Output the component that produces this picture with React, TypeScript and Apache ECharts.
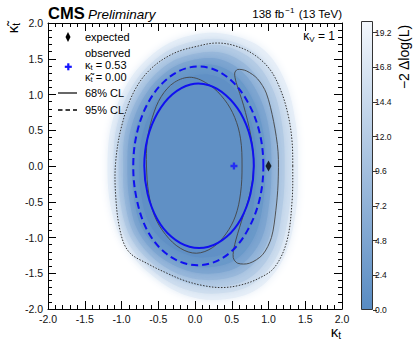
import React, { useEffect, useRef } from 'react';
import * as echarts from 'echarts';

// ---- data ----
const axisMin = -2;
const axisMax = 2;
const axisStep = 0.5;
const colorbarTicks = [0, 2.4, 4.8, 7.2, 9.6, 12.0, 14.4, 16.8, 19.2];
const colorbarMax = 20;

const expectedPoint: number[] = [1.0, 0.0];
const observedPoint: number[] = [0.53, 0.0];
const observedKt = '0.53';
const observedKtTilde = '0.00';

// observed 68% CL (blue solid)
const obs68: number[][] = [
  [0.80, 0.0], [0.755, 0.39], [0.62, 0.74], [0.42, 0.99], [0.19, 1.13], [-0.06, 1.14], [-0.31, 1.0],
  [-0.51, 0.74], [-0.645, 0.39], [-0.69, 0.0], [-0.645, -0.39], [-0.515, -0.74], [-0.32, -0.99],
  [-0.075, -1.13], [0.185, -1.13], [0.43, -0.99], [0.625, -0.74], [0.755, -0.39],
];
// observed 95% CL (blue dashed)
const obs95: number[][] = [
  [0.93, 0.0], [0.877, 0.474], [0.72, 0.89], [0.49, 1.20], [0.20, 1.37], [-0.11, 1.37], [-0.40, 1.20],
  [-0.635, 0.89], [-0.787, 0.474], [-0.84, 0.0], [-0.79, -0.48], [-0.645, -0.91], [-0.41, -1.21],
  [-0.11, -1.37], [0.20, -1.365], [0.49, -1.20], [0.72, -0.89], [0.877, -0.474],
];
// expected 68% CL, left lobe (thin black)
const exp68Left: number[][] = [
  [0.64, 0.0], [0.62, 0.38], [0.54, 0.68], [0.40, 0.93], [0.20, 1.13], [-0.05, 1.24], [-0.28, 1.17],
  [-0.46, 0.97], [-0.58, 0.68], [-0.65, 0.35], [-0.66, 0.0], [-0.63, -0.38], [-0.55, -0.70],
  [-0.40, -0.96], [-0.20, -1.15], [0.02, -1.22], [0.24, -1.14], [0.42, -0.95], [0.55, -0.70], [0.62, -0.38],
];
// expected 68% CL, right crescent (thin black)
const exp68Right: number[][] = [
  [0.58, 1.35], [0.70, 1.33], [0.85, 1.22], [0.97, 1.02], [1.07, 0.62], [1.13, 0.20], [1.13, -0.25],
  [1.10, -0.62], [1.04, -1.0], [0.92, -1.24], [0.74, -1.36], [0.58, -1.36], [0.52, -1.28],
  [0.54, -1.10], [0.63, -0.78], [0.74, -0.42], [0.80, 0.0], [0.76, 0.42], [0.66, 0.85], [0.56, 1.17], [0.54, 1.30],
];
// expected 95% CL (thin dotted)
const exp95: number[][] = [
  [1.33, 0.0], [1.32, 0.35], [1.27, 0.70], [1.17, 1.05], [1.02, 1.35], [0.80, 1.56], [0.55, 1.68],
  [0.30, 1.72], [0.05, 1.68], [-0.30, 1.57], [-0.62, 1.34], [-0.84, 1.02], [-1.00, 0.55],
  [-1.08, 0.05], [-1.08, -0.40], [-1.02, -0.90], [-0.90, -1.20], [-0.62, -1.38], [-0.38, -1.50],
  [-0.15, -1.60], [0.10, -1.67], [0.35, -1.70], [0.60, -1.67], [0.85, -1.58], [1.08, -1.42],
  [1.25, -1.05], [1.32, -0.50],
];

// -2 Delta log(L) bands (outer boundary of each level)
const bandLevels = [18.5, 15.5, 12, 8.5, 5, 2.5, 1];
const band1: number[][] = [[1.40, 0], [1.37, 0.6], [1.22, 1.2], [0.92, 1.64], [0.45, 1.84], [0.0, 1.84], [-0.45, 1.66], [-0.88, 1.22], [-1.13, 0.6], [-1.19, 0], [-1.14, -0.6], [-0.96, -1.10], [-0.62, -1.50], [-0.15, -1.80], [0.35, -1.87], [0.85, -1.72], [1.20, -1.3], [1.37, -0.65]];
const band2: number[][] = [[1.31, 0], [1.28, 0.58], [1.14, 1.13], [0.86, 1.55], [0.43, 1.76], [0.0, 1.75], [-0.42, 1.58], [-0.82, 1.17], [-1.06, 0.58], [-1.11, 0], [-1.07, -0.58], [-0.92, -1.06], [-0.60, -1.44], [-0.15, -1.72], [0.35, -1.78], [0.80, -1.64], [1.13, -1.23], [1.28, -0.62]];
const band3: number[][] = [[1.22, 0], [1.19, 0.55], [1.06, 1.07], [0.80, 1.47], [0.40, 1.68], [0.0, 1.66], [-0.40, 1.50], [-0.77, 1.11], [-0.99, 0.55], [-1.04, 0], [-1.01, -0.55], [-0.87, -1.01], [-0.56, -1.38], [-0.13, -1.63], [0.33, -1.69], [0.75, -1.56], [1.06, -1.17], [1.19, -0.58]];
const band4: number[][] = [[1.13, 0], [1.10, 0.52], [0.97, 1.00], [0.73, 1.38], [0.38, 1.58], [0.0, 1.57], [-0.38, 1.42], [-0.72, 1.05], [-0.94, 0.52], [-0.98, 0], [-0.95, -0.52], [-0.82, -0.97], [-0.53, -1.32], [-0.12, -1.55], [0.30, -1.59], [0.68, -1.47], [0.97, -1.10], [1.10, -0.55]];
const band5: number[][] = [[1.04, 0], [1.01, 0.5], [0.89, 0.94], [0.66, 1.30], [0.35, 1.49], [0.0, 1.49], [-0.36, 1.34], [-0.68, 0.99], [-0.88, 0.49], [-0.92, 0], [-0.89, -0.49], [-0.77, -0.92], [-0.50, -1.25], [-0.11, -1.46], [0.28, -1.50], [0.63, -1.38], [0.90, -1.03], [1.01, -0.52]];
const band6: number[][] = [[0.96, 0], [0.93, 0.47], [0.81, 0.88], [0.60, 1.22], [0.32, 1.40], [0.0, 1.40], [-0.34, 1.26], [-0.63, 0.93], [-0.82, 0.46], [-0.86, 0], [-0.83, -0.46], [-0.72, -0.87], [-0.47, -1.18], [-0.10, -1.38], [0.26, -1.41], [0.58, -1.29], [0.82, -0.96], [0.93, -0.49]];
const band7: number[][] = [[0.84, 0], [0.81, 0.42], [0.70, 0.80], [0.52, 1.10], [0.28, 1.26], [0.0, 1.27], [-0.30, 1.14], [-0.56, 0.84], [-0.72, 0.42], [-0.76, 0], [-0.73, -0.42], [-0.63, -0.79], [-0.41, -1.07], [-0.08, -1.25], [0.23, -1.27], [0.52, -1.16], [0.73, -0.87], [0.81, -0.44]];
const bands = [band1, band2, band3, band4, band5, band6, band7];

// ---- styling helpers ----
const FONT = '"Liberation Sans", Arial, Helvetica, sans-serif';
const cLow = [88, 139, 194];
const cHigh = [243, 247, 252];
function levelColor(v: number): string {
  const t = Math.max(0, Math.min(1, v / colorbarMax));
  const c = cLow.map((lo, i) => Math.round(lo + (cHigh[i] - lo) * t));
  return `rgb(${c[0]},${c[1]},${c[2]})`;
}

function polySeries(pts: number[][], style: any, z: number, smooth = 0.35) {
  return {
    type: 'custom',
    xAxisIndex: 0,
    yAxisIndex: 0,
    z,
    silent: true,
    clip: true,
    data: pts,
    renderItem: (params: any, api: any) => {
      if (params.dataIndex !== 0) return null;
      const points = pts.map((p) => api.coord(p));
      return { type: 'polygon', shape: { points, smooth }, style };
    },
  };
}

const fmt1 = (v: number) => (Math.round(v * 10) / 10).toFixed(1);

const axisCommon: any = {
  type: 'value',
  min: axisMin,
  max: axisMax,
  interval: axisStep,
  gridIndex: 0,
  z: 20,
  axisLine: { show: true, onZero: false, lineStyle: { color: '#000', width: 1 } },
  axisTick: { show: true, inside: true, length: 8, lineStyle: { color: '#000', width: 1 } },
  minorTick: { show: true, splitNumber: 5, length: 4, lineStyle: { color: '#000', width: 1 } },
  splitLine: { show: false },
  minorSplitLine: { show: false },
};

export default function App() {
  const ref = useRef<HTMLDivElement>(null);
  useEffect(() => {
    if (!ref.current) return;
    const chart = echarts.init(ref.current, null, { renderer: 'svg' });

    const gradStops = [0, 0.25, 0.5, 0.75, 1].map((o) => ({ offset: o, color: levelColor(colorbarMax * (1 - o)) }));

    const series: any[] = [];
    bands.forEach((b, i) => {
      const col = levelColor(bandLevels[i]);
      series.push(polySeries(b, { fill: col, stroke: 'none', shadowBlur: 9, shadowColor: col }, 1 + i * 0.01));
    });
    series.push(polySeries(exp95, { fill: 'none', stroke: '#333', lineWidth: 1, lineDash: [1.5, 1.5] }, 3));
    series.push(polySeries(exp68Left, { fill: 'none', stroke: '#444', lineWidth: 0.9 }, 3));
    series.push(polySeries(exp68Right, { fill: 'none', stroke: '#444', lineWidth: 0.9 }, 3, 0.3));
    series.push(polySeries(obs95, { fill: 'none', stroke: '#1010f0', lineWidth: 2, lineDash: [7, 4] }, 4));
    series.push(polySeries(obs68, { fill: 'none', stroke: '#1010f0', lineWidth: 2 }, 4));
    series.push({
      type: 'scatter', xAxisIndex: 0, yAxisIndex: 0, z: 10, silent: true,
      data: [expectedPoint], symbol: 'diamond', symbolSize: [6, 11], itemStyle: { color: '#000' },
    });
    series.push({
      type: 'scatter', xAxisIndex: 0, yAxisIndex: 0, z: 10, silent: true,
      data: [observedPoint], symbol: 'path://M2,0H4V2H6V4H4V6H2V4H0V2H2Z', symbolSize: 7,
      itemStyle: { color: '#1515ff' },
    });
    series.push({
      type: 'bar', xAxisIndex: 2, yAxisIndex: 2, silent: true, barWidth: '100%',
      data: [colorbarMax],
      itemStyle: { color: new echarts.graphic.LinearGradient(0, 0, 0, 1, gradStops), borderColor: '#333', borderWidth: 1 },
    });

    const legendFont = `11px ${FONT}`;
    const graphic: any[] = [
      { type: 'text', x: 48, y: 13, style: { text: 'CMS', font: `bold 16.5px ${FONT}`, fill: '#000', verticalAlign: 'middle' } },
      { type: 'text', x: 88, y: 14, style: { text: 'Preliminary', font: `italic 13.5px ${FONT}`, fill: '#000', verticalAlign: 'middle' } },
      {
        type: 'text', x: 342, y: 14,
        style: {
          text: '{a|138 fb}{b|−1}{a| (13 TeV)}', align: 'right', verticalAlign: 'middle', fill: '#000',
          rich: { a: { fontSize: 11.5, fontFamily: FONT, fill: '#000' }, b: { fontSize: 8, fontFamily: FONT, fill: '#000', padding: [0, 1, 7, 1] } },
        },
      },
      {
        type: 'text', x: 335, y: 36,
        style: {
          text: '{k|κ}{s|V}{n| = 1}', align: 'right', verticalAlign: 'middle',
          rich: { k: { fontSize: 12, fontFamily: FONT, fill: '#000' }, s: { fontSize: 8, fontFamily: FONT, fill: '#000', padding: [6, 0, 0, 0] }, n: { fontSize: 12, fontFamily: FONT, fill: '#000' } },
        },
      },
      {
        type: 'text', x: 341, y: 331,
        style: {
          text: '{k|κ}{s|t}', align: 'right', verticalAlign: 'middle',
          rich: { k: { fontSize: 15, fontFamily: FONT, fill: '#000' }, s: { fontSize: 10, fontFamily: FONT, fill: '#000', padding: [8, 0, 0, 0] } },
        },
      },
      {
        type: 'text', x: 12, y: 28, rotation: Math.PI / 2,
        style: {
          text: '{k|κ̃}{s|t}', align: 'center', verticalAlign: 'middle',
          rich: { k: { fontSize: 15, fontFamily: FONT, fill: '#000' }, s: { fontSize: 10, fontFamily: FONT, fill: '#000', padding: [8, 0, 0, 0] } },
        },
      },
      {
        type: 'text', x: 404, y: 57, rotation: Math.PI / 2,
        style: { text: '−2 Δlog(L)', font: `14px ${FONT}`, fill: '#000', align: 'center', verticalAlign: 'middle' },
      },
      // legend
      { type: 'polygon', shape: { points: [[68, 32], [70.5, 37], [68, 42], [65.5, 37]] }, style: { fill: '#000' } },
      { type: 'text', x: 85, y: 37, style: { text: 'expected', font: legendFont, fill: '#000', verticalAlign: 'middle' } },
      { type: 'rect', shape: { x: 64.8, y: 65.7, width: 7, height: 2.2 }, style: { fill: '#1515ff' } },
      { type: 'rect', shape: { x: 67.2, y: 63.3, width: 2.2, height: 7 }, style: { fill: '#1515ff' } },
      { type: 'text', x: 85, y: 53, style: { text: 'observed', font: legendFont, fill: '#000', verticalAlign: 'middle' } },
      {
        type: 'text', x: 85, y: 65,
        style: {
          text: `{k|κ}{s|t}{n| = ${observedKt}}`, verticalAlign: 'middle',
          rich: { k: { fontSize: 11, fontFamily: FONT, fill: '#000' }, s: { fontSize: 7.5, fontFamily: FONT, fill: '#000', padding: [5, 0, 0, 0] }, n: { fontSize: 11, fontFamily: FONT, fill: '#000' } },
        },
      },
      {
        type: 'text', x: 85, y: 77,
        style: {
          text: `{k|κ̃}{s|t}{n| = ${observedKtTilde}}`, verticalAlign: 'middle',
          rich: { k: { fontSize: 11, fontFamily: FONT, fill: '#000' }, s: { fontSize: 7.5, fontFamily: FONT, fill: '#000', padding: [5, 0, 0, 0] }, n: { fontSize: 11, fontFamily: FONT, fill: '#000' } },
        },
      },
      { type: 'line', shape: { x1: 58, y1: 93, x2: 77, y2: 93 }, style: { stroke: '#000', lineWidth: 1.2 } },
      { type: 'text', x: 85, y: 93, style: { text: '68% CL', font: legendFont, fill: '#000', verticalAlign: 'middle' } },
      { type: 'line', shape: { x1: 58, y1: 110, x2: 77, y2: 110 }, style: { stroke: '#000', lineWidth: 1.4, lineDash: [4.5, 3] } },
      { type: 'text', x: 85, y: 110, style: { text: '95% CL', font: legendFont, fill: '#000', verticalAlign: 'middle' } },
    ].map((g) => ({ ...g, z: 100 }));

    const option: any = {
      animation: false,
      textStyle: { fontFamily: FONT },
      grid: [
        { left: 48, top: 23, width: 294, height: 286, containLabel: false },
        { left: 361, top: 21, width: 12, height: 289, containLabel: false },
      ],
      xAxis: [
        { ...axisCommon, position: 'bottom', axisLabel: { show: true, formatter: fmt1, fontSize: 10.5, color: '#111', margin: 4 } },
        { ...axisCommon, position: 'top', axisLabel: { show: false } },
        { type: 'category', gridIndex: 1, data: ['cb'], show: false },
      ],
      yAxis: [
        { ...axisCommon, position: 'left', axisLabel: { show: true, formatter: fmt1, fontSize: 10.5, color: '#111', margin: 5 } },
        { ...axisCommon, position: 'right', axisLabel: { show: false } },
        {
          type: 'value', gridIndex: 1, position: 'right', min: colorbarTicks[0], max: colorbarMax,
          interval: colorbarTicks[1] - colorbarTicks[0],
          axisLine: { show: false },
          axisTick: { show: true, inside: false, length: 4, lineStyle: { color: '#333' } },
          splitLine: { show: false },
          axisLabel: { show: true, showMaxLabel: false, formatter: fmt1, fontSize: 8.5, color: '#111', margin: 2 },
        },
      ],
      series,
      graphic,
    };
    chart.setOption(option);
    return () => chart.dispose();
  }, []);
  return <div ref={ref} style={{ position: 'absolute', left: 0, top: 0, width: 413, height: 340 }} />;
}
